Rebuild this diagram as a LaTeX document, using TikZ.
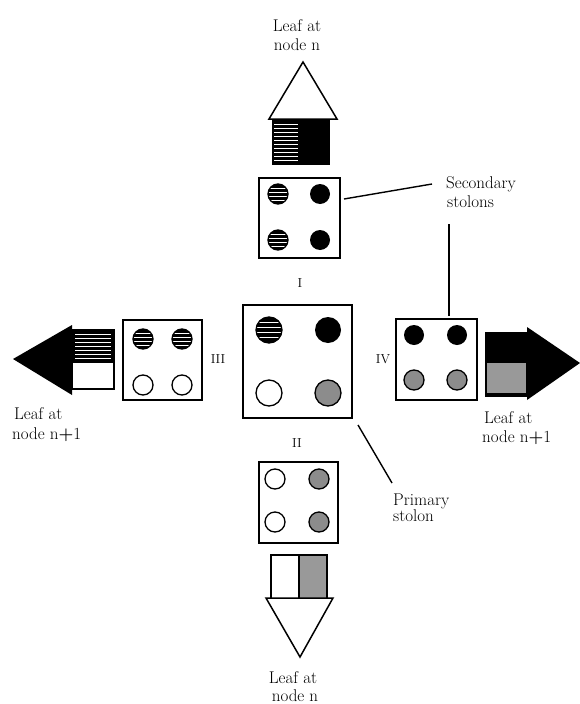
\documentclass[tikz,border=0pt]{standalone}
\usepackage{fontspec}
% disc with white horizontal stripes on black
\newcommand{\stripedisc}[3]{%
  \begin{scope}
    \clip (#1,#2) circle[radius=#3];
    \fill (#1,#2) circle[radius=#3];
    \foreach \k in {-0.6,-0.2,0.2,0.6}
      \draw[white,line width=0.9pt] (#1-#3,#2+\k*#3) -- (#1+#3,#2+\k*#3);
  \end{scope}
  \draw[line width=1.3pt] (#1,#2) circle[radius=#3];}
\newcommand{\blackdisc}[3]{\fill (#1,#2) circle[radius=#3];}
\newcommand{\whitedisc}[3]{\draw[line width=1.3pt,fill=white] (#1,#2) circle[radius=#3];}
\newcommand{\greydisc}[3]{\draw[line width=1.3pt,fill=black!45] (#1,#2) circle[radius=#3];}
\begin{document}
\begin{tikzpicture}[x=1pt,y=-1pt,
  box/.style={draw,line width=1.8pt,inner sep=0pt},
  lead/.style={line width=1.4pt},
  lbl/.style={font=\fontsize{17}{19}\selectfont,inner sep=0pt},
  num/.style={font=\fontsize{13}{14}\selectfont,inner sep=0pt},
  tip/.style={line width=1.5pt,line join=miter},
  body/.style={line width=1.6pt},
]
\useasboundingbox (0,0) rectangle (579,704);

% ---- stolon boxes ----
\node[box,minimum width=81pt,minimum height=80pt] (topbox) at (299.5,218) {};
\node[box,minimum width=109pt,minimum height=113pt] (centre) at (297.5,361.5) {};
\node[box,minimum width=79pt,minimum height=80pt] (leftbox) at (162.5,360) {};
\node[box,minimum width=81pt,minimum height=81pt] (rightbox) at (436.5,359.5) {};
\node[box,minimum width=79pt,minimum height=81pt] (botbox) at (298.5,502.5) {};

% discs in the boxes
\stripedisc{278}{194}{10} \stripedisc{278}{240}{10}
\blackdisc{320}{194}{10}  \blackdisc{320}{240}{10}

\stripedisc{269}{330}{13} \blackdisc{328}{330}{13}
\whitedisc{269}{393}{13}  \greydisc{328}{393}{13}

\stripedisc{143}{339}{10} \stripedisc{182}{339}{10}
\whitedisc{143}{385}{10}  \whitedisc{182}{385}{10}

\blackdisc{414}{335}{10}  \blackdisc{457}{335}{10}
\greydisc{414}{380}{10}   \greydisc{457}{380}{10}

\whitedisc{275}{479}{10}  \greydisc{319}{479}{10}
\whitedisc{275}{522}{10}  \greydisc{319}{522}{10}

% ---- roman numerals ----
\node[num] (nI)   at (300,283) {I};
\node[num] (nII)  at (297,443) {II};
\node[num] (nIII) at (218,359) {III};
\node[num] (nIV)  at (383,359) {IV};

% ---- leaf arrows ----
% up (node n)
\fill (272,119) rectangle (330,165);
\foreach \yy in {124,128,...,160}
  \draw[white,line width=0.8pt] (274,\yy) -- (298,\yy);
\draw[tip,fill=white] (269,119) -- (303,62) -- (337,119) -- cycle;
% left (node n+1)
\draw[body,fill=white] (72,330) rectangle (114,389);
\fill (72,330) rectangle (114,363);
\foreach \yy in {334,338,...,358}
  \draw[white,line width=0.8pt] (75,\yy) -- (111,\yy);
\fill (72,325) -- (13,359) -- (72,395) -- cycle;
% right (node n+1)
\fill (485,332) rectangle (527,397);
\fill[black!40] (487,363) rectangle (526,393);
\fill (527,327) -- (580,363) -- (527,400) -- cycle;
% down (node n)
\fill[black!40] (299,555) rectangle (327,598);
\draw[body] (271,598) -- (271,555) -- (327,555) -- (327,598);
\draw[body] (299,555) -- (299,598);
\draw[tip,fill=white] (266,598) -- (333,598) -- (300,657) -- cycle;

% ---- labels ----
\node[lbl,anchor=base] (topA) at (297,31) {Leaf at};
\node[lbl,anchor=base] (topB) at (297,50) {node n};
\node[lbl,anchor=base west] (leftA) at (14,419) {Leaf at};
\node[lbl,anchor=base west] (leftB) at (12,439) {node n{\bfseries+}1};
\node[lbl,anchor=base west] (rightA) at (484,423) {Leaf at};
\node[lbl,anchor=base west] (rightB) at (482,442) {node n{\bfseries+}1};
\node[lbl,anchor=base] (botA) at (293,683) {Leaf at};
\node[lbl,anchor=base] (botB) at (295,701) {node n};
\node[lbl,anchor=base west] (secA) at (446,188) {Secondary};
\node[lbl,anchor=base west] (secB) at (447,207) {stolons};
\node[lbl,anchor=base west] (priA) at (393,505) {Primary};
\node[lbl,anchor=base west] (priB) at (393,521) {stolon};

% ---- leader lines ----
\coordinate (secTop) at (344,199);
\coordinate (secEnd) at (432,184);
\coordinate (secUp) at (449,224);
\coordinate (secDown) at (449,316);
\coordinate (priStart) at (358,425);
\coordinate (priEnd) at (392,483);
\draw[lead] (secTop) -- (secEnd);
\draw[lead] (secUp) -- (secDown);
\draw[lead] (priStart) -- (priEnd);
\end{tikzpicture}
\end{document}
